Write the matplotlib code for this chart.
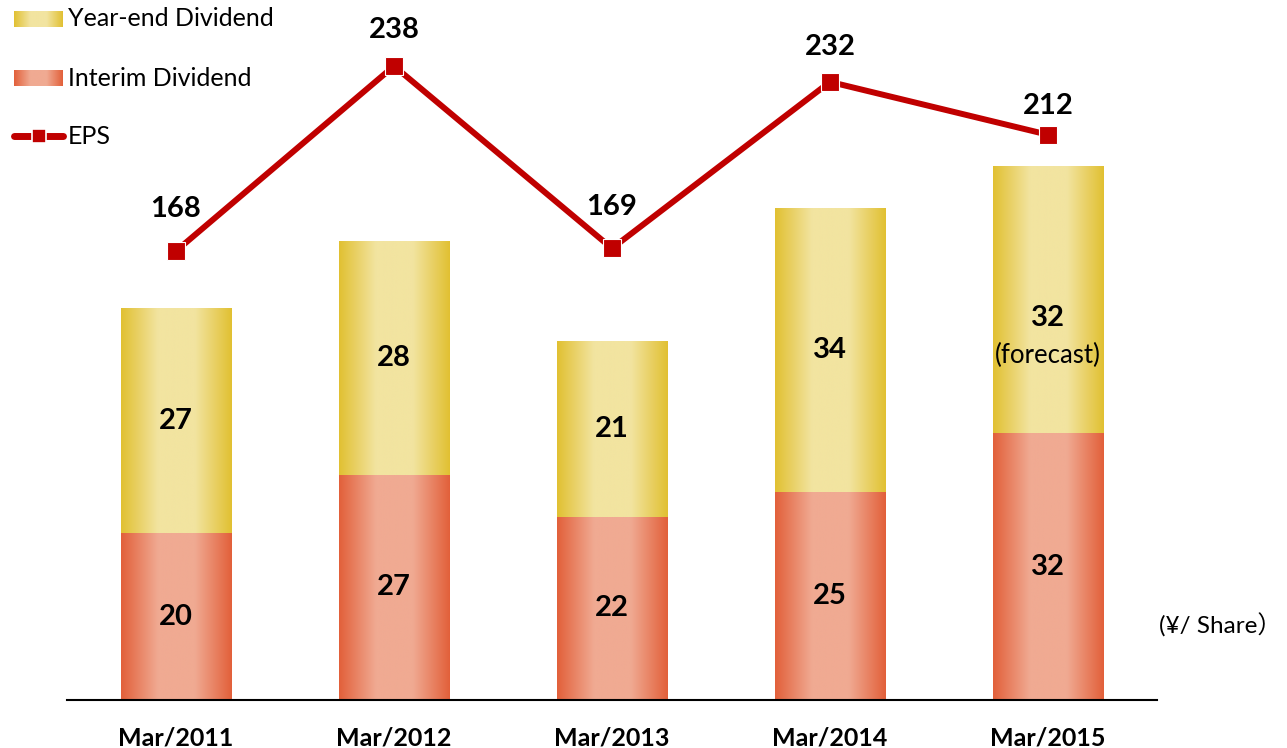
import numpy as np
import matplotlib
matplotlib.use("Agg")
import matplotlib.pyplot as plt
from matplotlib.colors import LinearSegmentedColormap
from matplotlib.lines import Line2D

plt.rcParams['font.family'] = ['Lato', 'Noto Sans CJK JP', 'DejaVu Sans']

categories = ["Mar/2011", "Mar/2012", "Mar/2013", "Mar/2014", "Mar/2015"]
interim = [20, 27, 22, 25, 32]
year_end = [27, 28, 21, 34, 32]
eps = [168, 238, 169, 232, 212]
eps_label_offsets = [30, 26, 30, 25, 21]  # points above marker

yel_cmap = LinearSegmentedColormap.from_list("yel", ["#E1C032", "#F2E4A0", "#F2E4A0", "#E1C032"])
red_cmap = LinearSegmentedColormap.from_list("red", ["#E2603A", "#F0AA92", "#F0AA92", "#E2603A"])
grad = np.linspace(0, 1, 256).reshape(1, -1)

fig = plt.figure(figsize=(12.87, 7.48), dpi=100)
ax = fig.add_axes([67/1287, 48/748, 1090/1287, 667/748])
x = np.arange(len(categories))
w = 0.505

b1 = ax.bar(x, interim, width=w, color="none", edgecolor="none")
b2 = ax.bar(x, year_end, width=w, bottom=interim, color="none", edgecolor="none")
for bars, cmap in ((b1, red_cmap), (b2, yel_cmap)):
    for r in bars:
        x0, y0 = r.get_x(), r.get_y()
        im = ax.imshow(grad, cmap=cmap, aspect="auto",
                       extent=[x0, x0 + r.get_width(), y0, y0 + r.get_height()], zorder=1)
        im.set_clip_path(r)

ax.set_xlim(-0.5, len(categories) - 0.5)
ax.set_ylim(0, 80)
for s in ("top", "right", "left"):
    ax.spines[s].set_visible(False)
ax.spines["bottom"].set_linewidth(1.5)
ax.set_yticks([])
ax.set_xticks(x)
ax.set_xticklabels(categories, fontsize=18, fontweight="bold")
ax.tick_params(axis="x", length=0, pad=19)

for i in range(len(categories)):
    ax.text(x[i], interim[i] / 2, str(interim[i]), ha="center", va="center",
            fontsize=21, fontweight="bold", zorder=5)
    if i == len(categories) - 1:
        ax.annotate(str(year_end[i]), (x[i], interim[i] + year_end[i] / 2),
                    xytext=(0, -13), textcoords="offset points", ha="center", va="center",
                    fontsize=21, fontweight="bold", zorder=5)
        ax.annotate("(forecast)", (x[i], interim[i] + year_end[i] / 2),
                    xytext=(0, -40), textcoords="offset points", ha="center", va="center",
                    fontsize=18.5, zorder=5)
    else:
        ax.text(x[i], interim[i] + year_end[i] / 2, str(year_end[i]), ha="center", va="center",
                fontsize=21, fontweight="bold", zorder=5)

ax2 = ax.twinx()
ax2.set_ylim(-1.9, 250.5)
ax2.axis("off")
ax2.plot(x, eps, color="#C00000", lw=4.3, marker="s", markersize=13,
         markeredgecolor="white", markeredgewidth=0.8, solid_capstyle="butt")
for i, v in enumerate(eps):
    ax2.annotate(str(v), (x[i], v), xytext=(0, eps_label_offsets[i]), textcoords="offset points",
                 ha="center", va="center", fontsize=21, fontweight="bold")

fig.text(1282/1287, 1 - 625/748, "(¥/ Share\uff09", fontsize=17.5, ha="right", va="center")

# legend
H = 748.0
W = 1287.0
def patch(cmap, ytop):
    pax = fig.add_axes([14/W, 1 - (ytop + 16)/H, 49/W, 16/H])
    pax.imshow(grad, cmap=cmap, aspect="auto")
    pax.axis("off")
patch(yel_cmap, 11)
patch(red_cmap, 70)
fig.add_artist(Line2D([14/W, 63/W], [1 - 136/H, 1 - 136/H], color="#C00000", lw=5,
                      solid_capstyle="round", transform=fig.transFigure))
fig.add_artist(Line2D([38.5/W], [1 - 136/H], color="#C00000", marker="s", markersize=10,
                      markeredgecolor="white", markeredgewidth=1.2, linestyle="none",
                      transform=fig.transFigure))
fig.text(68/W, 1 - 19/H, "Year-end Dividend", fontsize=18, va="center", ha="left")
fig.text(68/W, 1 - 78/H, "Interim Dividend", fontsize=18, va="center", ha="left")
fig.text(68/W, 1 - 136/H, "EPS", fontsize=18, va="center", ha="left")

fig.savefig("out.png", dpi=100)
